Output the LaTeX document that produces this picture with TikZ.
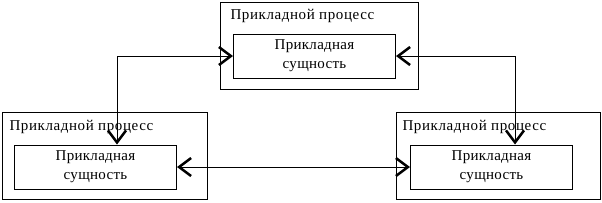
\documentclass[tikz,border=0pt]{standalone}
\usepackage{fontspec}
\setmainfont{Liberation Serif}
\usetikzlibrary{arrows.meta,positioning}

\begin{document}
\begin{tikzpicture}[x=1pt,y=-1pt,line width=1pt]
      \tikzset{
        proc/.style={draw,minimum height=87pt,inner sep=0pt},
        ent/.style={draw,minimum width=162pt,minimum height=44pt,inner sep=0pt,
            align=center,font=\fontsize{15}{19}\selectfont\addfontfeatures{LetterSpace=2}},
        ttl/.style={anchor=west,inner sep=0pt,
            font=\fontsize{15}{17}\selectfont\addfontfeatures{LetterSpace=4}},
        barb/.tip={Straight Barb[length=12pt,width=18pt,line width=2.5pt]},
        link/.style={barb-barb}
      }
      \useasboundingbox (0,0) rectangle (602,202);

      \node[proc,minimum width=198pt] (procT) at (319,45.5) {};
      \node[proc,minimum width=205pt] (procL) at (104.5,156) {};
      \node[proc,minimum width=204pt] (procR) at (498,156) {};

      \node[ttl] (ttlT) at (230,16) {Прикладной процесс};
      \node[ttl] (ttlL) at (9,127) {Прикладной процесс};
      \node[ttl] (ttlR) at (402,127) {Прикладной процесс};

      \node[ent] (entT) at (314.5,56) {Прикладная\\сущность};
      \node[ent] (entL) at (95.5,167) {Прикладная\\сущность};
      \node[ent] (entR) at (491.5,167) {Прикладная\\сущность};

      \coordinate (bendL) at (117,56);
      \coordinate (bendR) at (515,56);

      \draw[link] (entL.north -| bendL)--(bendL)--(entT.west);
      \draw[link] (entT.east)--(bendR)--(entR.north -| bendR);
      \draw[link] (entL.east)--(entR.west);
    \end{tikzpicture}
\end{document}
